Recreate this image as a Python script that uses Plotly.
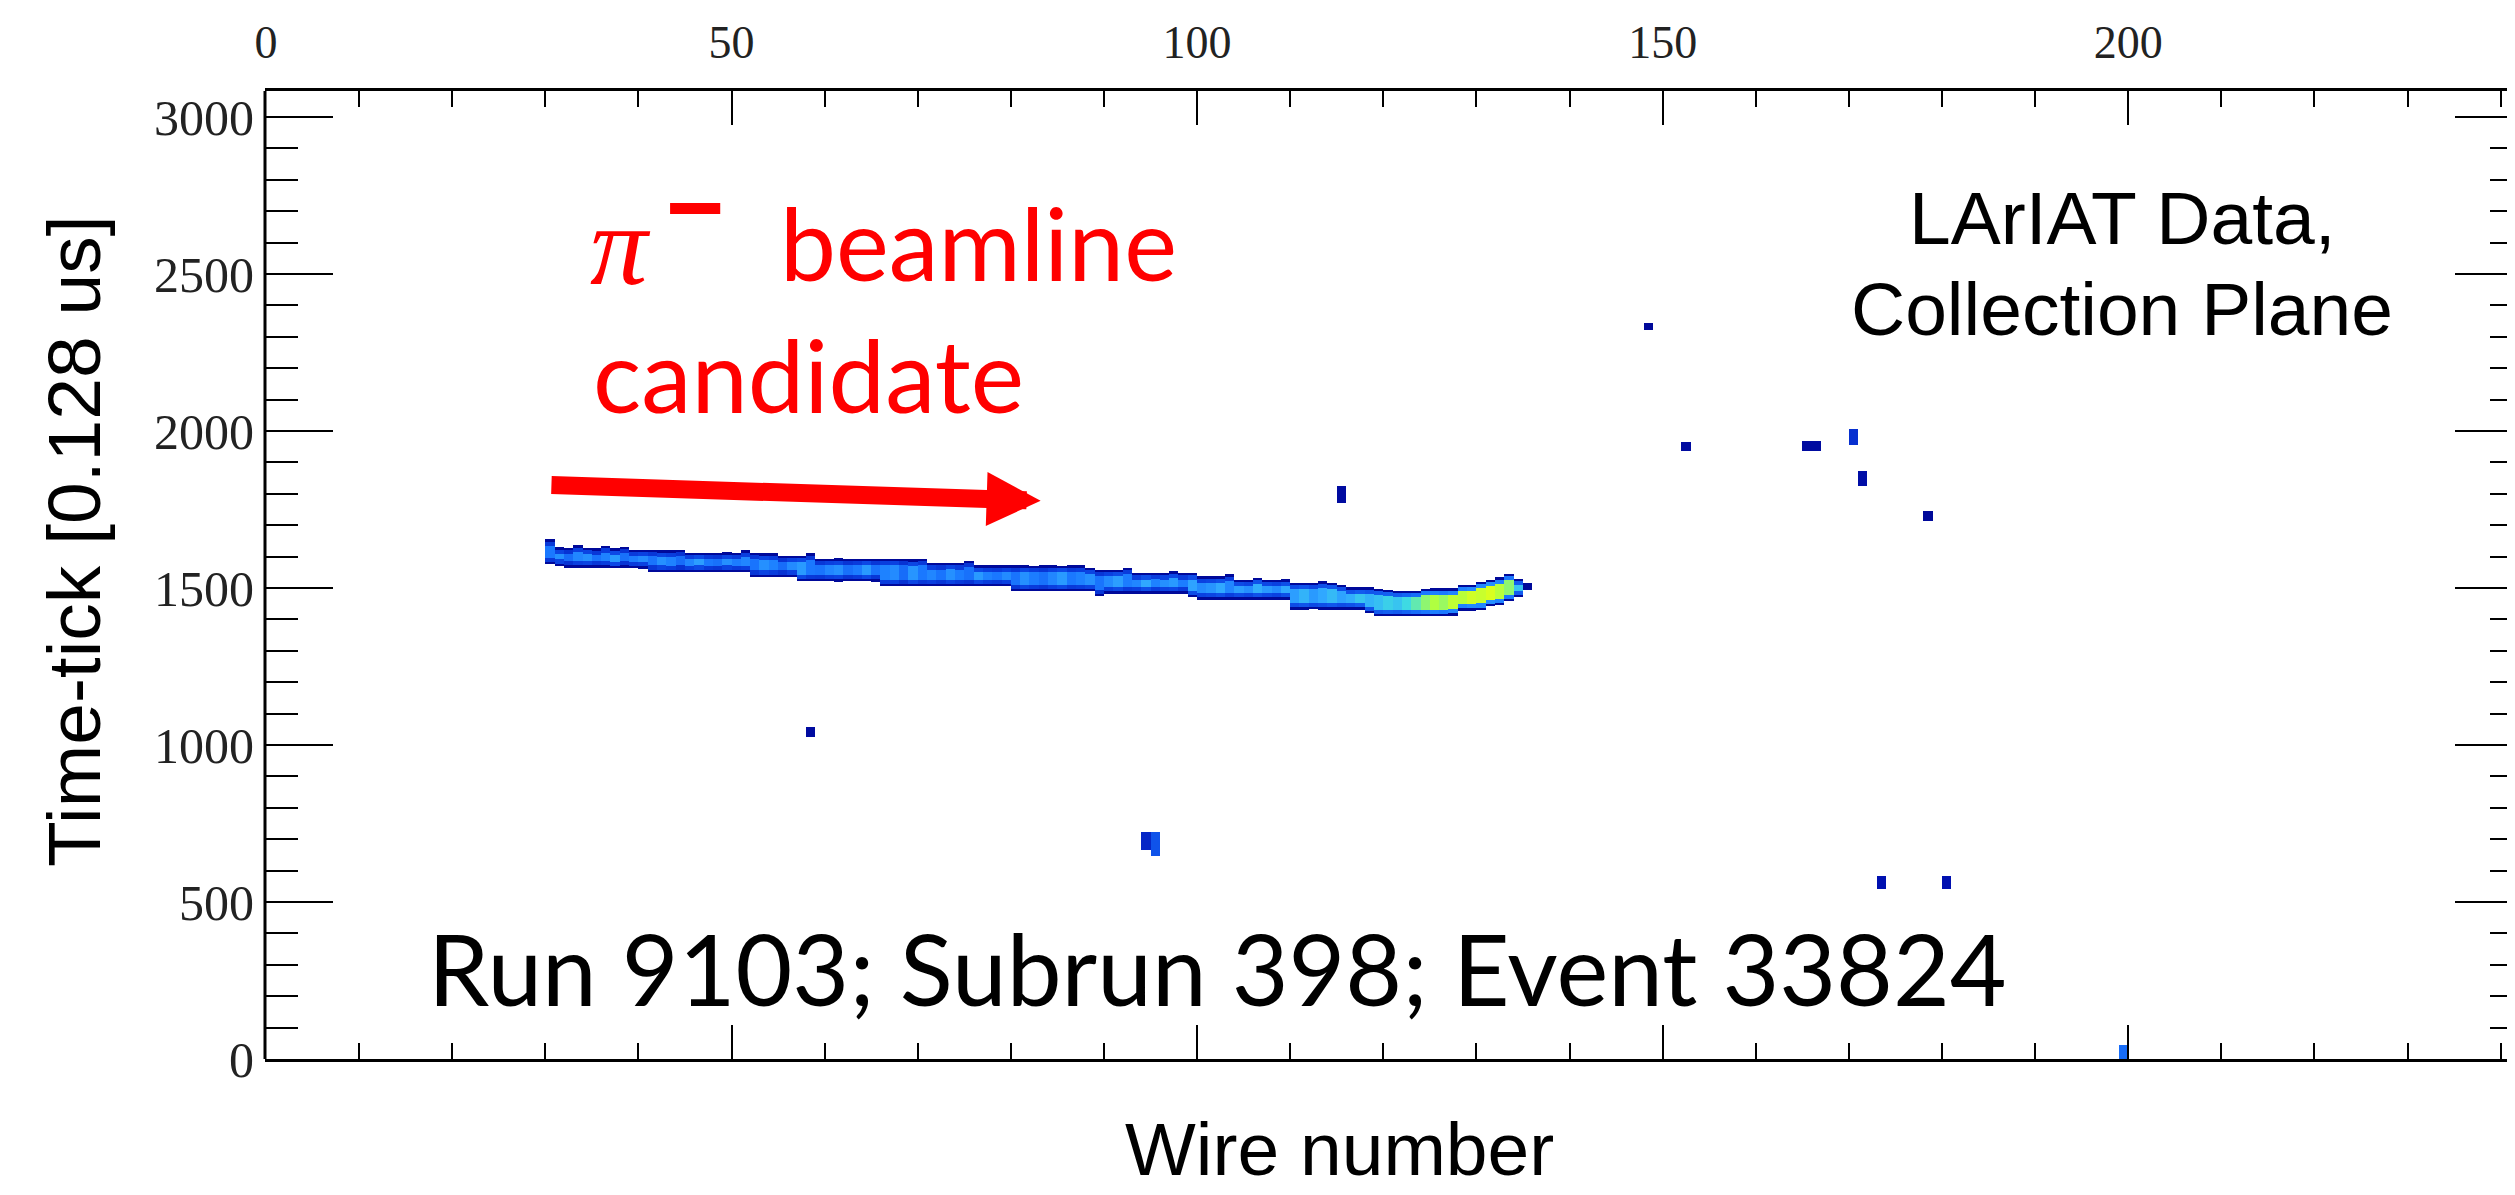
import plotly.graph_objects as go

# ---------------- data ----------------
# main track: one entry per wire, time-tick extent and relative charge
track_wires = list(range(30, 136))
track_hi = [1655, 1630, 1628, 1636, 1628, 1627, 1634, 1627, 1632, 1622, 1622,
            1622, 1621, 1621, 1622, 1612, 1613, 1612, 1612, 1614, 1612,
            1620, 1612, 1611, 1610, 1603, 1603, 1603, 1610, 1594, 1594,
            1595, 1594, 1594, 1593, 1594, 1594, 1593, 1594, 1592, 1594,
            1580, 1580, 1581, 1580, 1587, 1572, 1572, 1573, 1572, 1572,
            1572, 1571, 1572, 1572, 1571, 1572, 1572, 1565, 1559, 1559,
            1559, 1565, 1548, 1548, 1549, 1548, 1554, 1548, 1548, 1538,
            1538, 1538, 1544, 1527, 1527, 1533, 1527, 1527, 1528, 1517,
            1517, 1517, 1521, 1517, 1510, 1502, 1502, 1502, 1498, 1495,
            1492, 1492, 1492, 1498, 1500, 1500, 1500, 1511, 1511, 1520,
            1527, 1535, 1545, 1530, 1515]
track_lo = [1575, 1570, 1565, 1564, 1565, 1564, 1564, 1563, 1564, 1563, 1562,
            1551, 1551, 1550, 1551, 1550, 1551, 1550, 1550, 1551, 1550,
            1550, 1535, 1535, 1535, 1535, 1535, 1521, 1521, 1521, 1521,
            1520, 1521, 1521, 1521, 1520, 1505, 1505, 1505, 1505, 1505,
            1505, 1505, 1505, 1505, 1505, 1506, 1505, 1505, 1505, 1490,
            1490, 1490, 1490, 1490, 1490, 1490, 1490, 1490, 1474, 1482,
            1482, 1482, 1482, 1482, 1482, 1482, 1482, 1481, 1470, 1463,
            1463, 1463, 1463, 1463, 1463, 1462, 1463, 1463, 1463, 1431,
            1431, 1432, 1431, 1431, 1431, 1431, 1431, 1420, 1410, 1410,
            1410, 1410, 1410, 1410, 1410, 1410, 1412, 1428, 1428, 1430,
            1442, 1445, 1458, 1470, 1495]
track_q = [0.45, 0.50, 0.42, 0.48, 0.50, 0.44, 0.47, 0.52, 0.43, 0.46, 0.49,
           0.44, 0.50, 0.47, 0.42, 0.48, 0.53, 0.45, 0.43, 0.50, 0.46,
           0.48, 0.44, 0.50, 0.47, 0.42, 0.49, 0.52, 0.45, 0.44, 0.48,
           0.50, 0.43, 0.46, 0.52, 0.44, 0.47, 0.49, 0.42, 0.51, 0.45,
           0.48, 0.44, 0.50, 0.46, 0.43, 0.52, 0.47, 0.45, 0.49, 0.44,
           0.50, 0.46, 0.43, 0.48, 0.52, 0.45, 0.47, 0.50, 0.44, 0.49,
           0.53, 0.46, 0.48, 0.55, 0.47, 0.50, 0.52, 0.46, 0.54, 0.49,
           0.51, 0.55, 0.48, 0.53, 0.50, 0.56, 0.52, 0.49, 0.55, 0.53,
           0.57, 0.52, 0.55, 0.58, 0.54, 0.56, 0.60, 0.57, 0.59, 0.62,
           0.60, 0.64, 0.68, 0.72, 0.75, 0.73, 0.77, 0.76, 0.79, 0.78,
           0.80, 0.76, 0.72, 0.60, 0.45]

# isolated hits
hit_wires = [58, 94, 95, 115, 148, 152, 165, 166, 170, 171, 178, 173, 180, 199]
hit_lo = [1025, 665, 646, 1771, 2322, 1935, 1937, 1937, 1955, 1825, 1713, 543, 543, 0]
hit_hi = [1057, 722, 722, 1825, 2345, 1965, 1968, 1968, 2005, 1872, 1745, 583, 583, 45]
hit_q = [0.10, 0.22, 0.35, 0.10, 0.08, 0.10, 0.10, 0.10, 0.25, 0.12, 0.08, 0.15, 0.15, 0.42]

x_ticks = [0, 50, 100, 150, 200]
y_ticks = [0, 500, 1000, 1500, 2000, 2500, 3000]

# ---------------- styling ----------------
W, H = 2515, 1195
L, R, T, B = 257, 0, 83, 144
PW, PH = W - L - R, H - T - B

def px_x(px):
    return (px - L) / PW

def px_y(py):
    return (H - B - py) / PH

cscale = [[0.0, '#000080'], [0.15, '#0010b0'], [0.3, '#0a40e0'],
          [0.45, '#1a78ff'], [0.55, '#30a8ff'], [0.65, '#40e0e0'],
          [0.75, '#b0ff40'], [0.85, '#ffff00'], [1.0, '#ff0000']]

def bar_layer(wires, lo, hi, q, inset, name):
    xs, bases, heights, cols = [], [], [], []
    for w, a, b, c in zip(wires, lo, hi, q):
        a2, b2 = a + inset, b - inset
        if b2 - a2 < 8:
            continue
        xs.append(w + 0.5)
        bases.append(a2)
        heights.append(b2 - a2)
        cols.append(c)
    return go.Bar(x=xs, y=heights, base=bases, width=1.0, name=name,
                  marker=dict(color=cols, colorscale=cscale, cmin=0, cmax=1,
                              line=dict(width=0)),
                  hoverinfo='skip', showlegend=False)

fig = go.Figure()
# outer envelope (dark edge), middle and core layers of the track
fig.add_trace(bar_layer(track_wires, track_lo, track_hi,
                        [0.08] * len(track_wires), 0, 'track edge'))
fig.add_trace(bar_layer(track_wires, track_lo, track_hi,
                        [q * 0.62 for q in track_q], 8, 'track body'))
fig.add_trace(bar_layer(track_wires, track_lo, track_hi, track_q, 21, 'track core'))
# isolated hits
fig.add_trace(bar_layer(hit_wires, hit_lo, hit_hi, hit_q, 0, 'hits'))

fig.update_xaxes(range=[-0.1, 242.4], side='top', tickvals=x_ticks,
                 ticktext=[str(v) for v in x_ticks], ticklen=34,
                 ticklabelstandoff=12,
                 tickfont=dict(family='Liberation Serif', size=46, color='#222'),
                 minor=dict(dtick=10, tick0=0, ticklen=16, tickwidth=2,
                            ticks='inside', tickcolor='black'),
                 showgrid=False, zeroline=False, showline=True, linewidth=3,
                 linecolor='black', mirror='ticks', ticks='inside',
                 tickwidth=2, tickcolor='black')
# the right frame edge lies just outside the picture: keep mirrored ticks, no right line
fig.update_yaxes(range=[0, 3083], tickvals=y_ticks,
                 ticktext=[str(v) for v in y_ticks], ticklen=68,
                 ticklabelstandoff=10,
                 tickfont=dict(family='Liberation Serif', size=50, color='#222'),
                 minor=dict(dtick=100, tick0=0, ticklen=33, tickwidth=2,
                            ticks='inside', tickcolor='black'),
                 showgrid=False, zeroline=False, showline=False,
                 mirror='ticks', ticks='inside', tickwidth=2, tickcolor='black')

sans = 'Liberation Sans'
hum = 'Lato'
anns = [
    dict(text='Time-tick [0.128 us]', textangle=-90, x=px_x(66), y=px_y(533),
         xanchor='center', yanchor='middle',
         font=dict(family=sans, size=75, color='black')),
    dict(text='Wire number', x=px_x(1331), y=px_y(1141),
         xanchor='center', yanchor='middle',
         font=dict(family=sans, size=75, color='black')),
    dict(text='LArIAT Data,', x=px_x(2114), y=px_y(210),
         xanchor='center', yanchor='middle',
         font=dict(family=sans, size=75, color='black')),
    dict(text='Collection Plane', x=px_x(2114), y=px_y(301),
         xanchor='center', yanchor='middle',
         font=dict(family=sans, size=75, color='black')),
    dict(text='<i>π</i>', x=px_x(580), y=px_y(303),
         xanchor='left', yanchor='bottom',
         font=dict(family='Liberation Serif', size=115, color='#ff0000')),
    dict(text='<b>−</b>', x=px_x(687), y=px_y(199),
         xanchor='center', yanchor='middle',
         font=dict(family=sans, size=100, color='#ff0000')),
    dict(text='beamline', x=px_x(770), y=px_y(296),
         xanchor='left', yanchor='bottom',
         font=dict(family=hum, size=100, color='#ff0000')),
    dict(text='candidate', x=px_x(583), y=px_y(429),
         xanchor='left', yanchor='bottom',
         font=dict(family=hum, size=101, color='#ff0000')),
    dict(text='Run 9103; Subrun 398; Event 33824', x=px_x(418), y=px_y(1021),
         xanchor='left', yanchor='bottom',
         font=dict(family=hum, size=98, color='black')),
]
for a in anns:
    a.update(xref='paper', yref='paper', showarrow=False)

# red arrow
anns.append(dict(x=83.2, y=1778, ax=30.5, ay=1828, xref='x', yref='y',
                 axref='x', ayref='y', text='', showarrow=True,
                 arrowhead=2, arrowwidth=18, arrowsize=0.6,
                 arrowcolor='#ff0000', standoff=0, startstandoff=0))

fig.update_layout(width=W, height=H, margin=dict(l=L, r=R, t=T, b=B, pad=0),
                  paper_bgcolor='white', plot_bgcolor='white',
                  barmode='overlay', bargap=0, showlegend=False,
                  annotations=anns,
                  shapes=[dict(type='line', xref='paper', yref='paper',
                               x0=0, x1=0, y0=0, y1=1,
                               line=dict(color='black', width=3))])

fig.write_html('out.html')
